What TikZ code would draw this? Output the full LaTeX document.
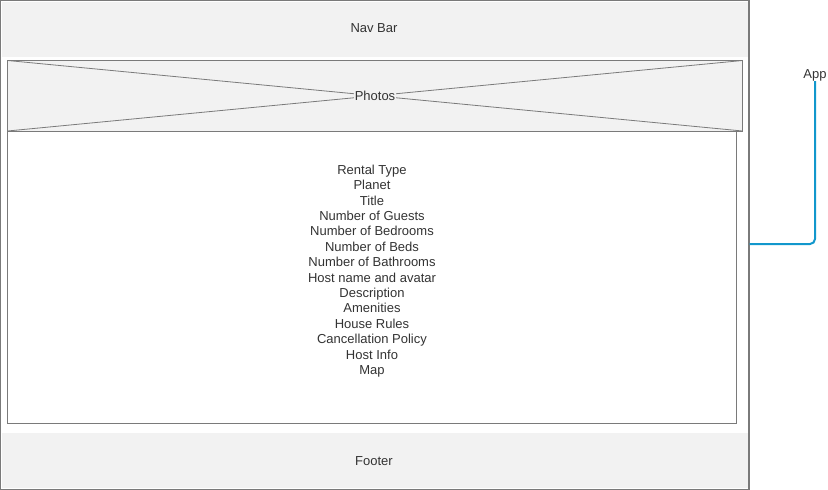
\documentclass[tikz,border=0pt]{standalone}
\usepackage{fontspec}
\setmainfont{Liberation Sans}
\definecolor{frame}{HTML}{7A7A7A}
\definecolor{panel}{HTML}{F2F2F2}
\definecolor{appblue}{HTML}{1297CC}
\definecolor{txt}{HTML}{333333}
\tikzset{
  lbl/.style={font=\fontsize{13}{15.4}\selectfont, text=txt, align=center, inner sep=0pt},
  box/.style={draw=frame, line width=1pt},
}
\begin{document}
\begin{tikzpicture}[x=1pt,y=-1pt]
\useasboundingbox (0,0) rectangle (828,490);
% outer app frame
\draw[box, line width=1.2pt, fill=white] (0.6,0.6) rectangle (749,489.2);
% nav bar
\fill[panel] (2,2) rectangle (748,57);
\node[lbl] (nav) at (374,28.5) {Nav Bar};
% photos
\draw[box, fill=panel] (7.5,60.5) rectangle (742.5,131);
\draw[frame, line width=0.8pt] (7.5,60.5) -- (742.5,131);
\draw[frame, line width=0.8pt] (7.5,131) -- (742.5,60.5);
\node[lbl, fill=panel, inner sep=1pt] (photos) at (375,96) {Photos};
% content
\draw[box] (7.5,131.5) rectangle (736.5,423.5);
\node[lbl] (content) at (372,271) {Rental Type\\Planet\\Title\\Number of Guests\\Number of Bedrooms\\Number of Beds\\Number of Bathrooms\\Host name and avatar\\Description\\Amenities\\House Rules\\Cancellation Policy\\Host Info\\Map};
% footer
\fill[panel] (2,433) rectangle (748,488);
\node[lbl] (footer) at (374,461) {Footer};
% app label and bracket
\node[lbl] (app) at (815,75) {App};
\coordinate (brk) at (749.5,244);
\draw[appblue, line width=2pt, rounded corners=5pt] (brk) -- (815,244) -- (app.south);
\end{tikzpicture}
\end{document}
